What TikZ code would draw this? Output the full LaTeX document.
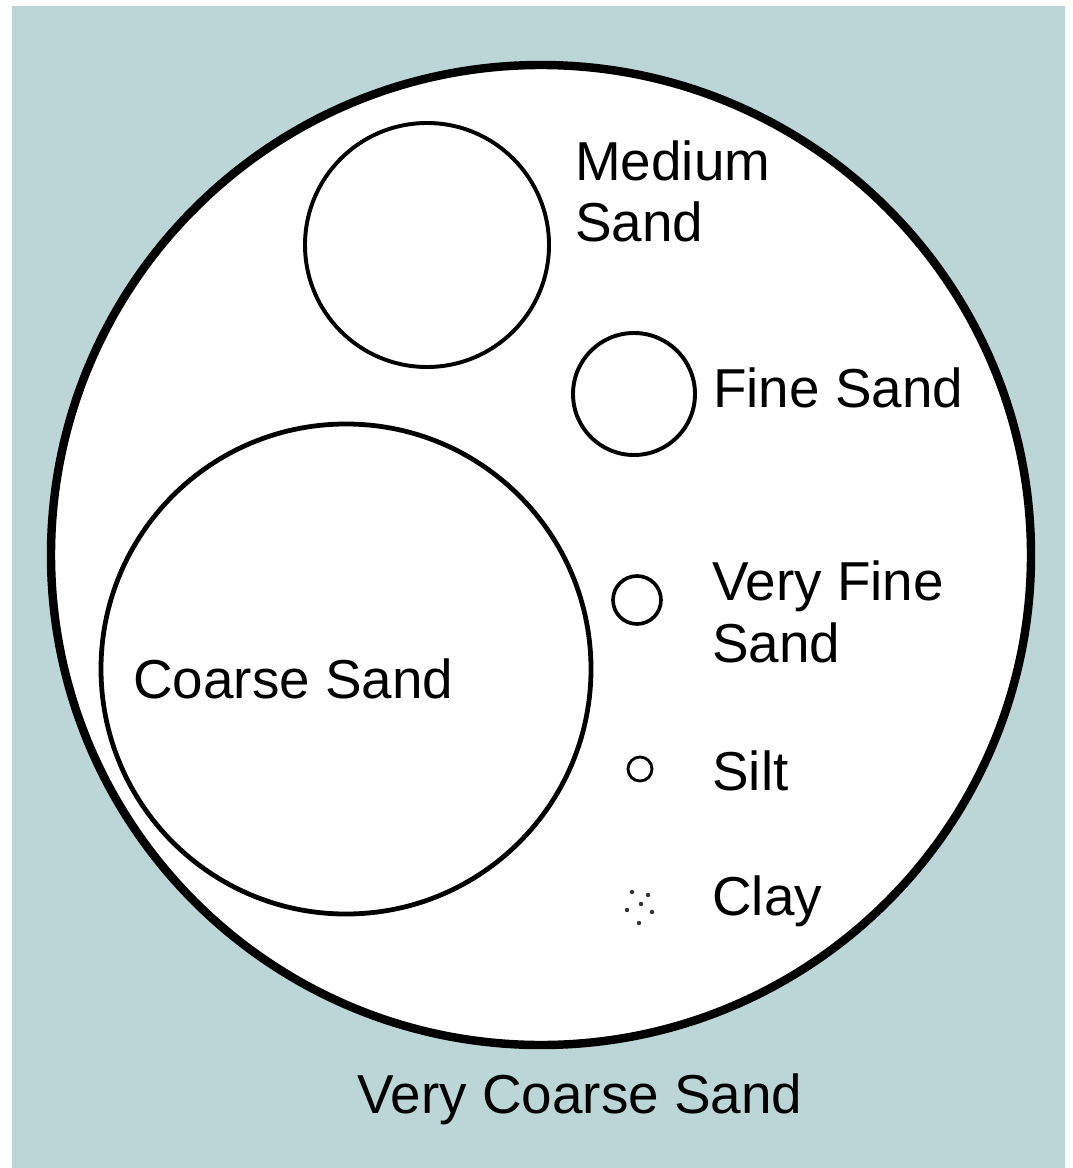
\documentclass[tikz,border=0pt]{standalone}
\usepackage{fontspec}
\setmainfont{Liberation Sans}
\usetikzlibrary{positioning}
\definecolor{cBack}{RGB}{188,214,215}
\tikzset{
	grain/.style     ={draw=black, fill=white, line width=2.8pt},
	label/.style     ={anchor=base west, inner sep=0pt, align=left, font=\fontsize{39}{44}\selectfont},
	claydot/.style   ={fill=black!80},
}
\begin{document}
\begin{tikzpicture}[x=0.025cm, y=-0.025cm]
	% frame and background
	\fill[white] (0,0) rectangle (1072,1168);
	\fill[cBack] (12,6) rectangle (1065,1168);
	\useasboundingbox (0,0) rectangle (1072,1168);
	% very coarse sand
	\draw[grain, line width=6pt] (541,555) circle (490);
	% the grains
	\draw[grain] (427,245) circle (122);
	\draw[grain] (634,394) circle (61);
	\draw[grain, line width=3.4pt] (346,669) circle (245);
	\draw[grain, line width=2.6pt] (637,600) circle (24);
	\draw[grain, line width=2pt] (640,769) circle (12);
	\foreach \px/\py in {632/892, 648/895, 641/904, 627/910, 652/912, 639/923}
		\fill[claydot] (\px,\py) circle (2.2);
	% labels (base = last line)
	\node[label] (medium) at (575,242) {Medium\\Sand};
	\node[label] (fine) at (713,407) {Fine Sand};
	\node[label] (vfine) at (712,662) {Very Fine\\Sand};
	\node[label] (coarse) at (133,698) {Coarse Sand};
	\node[label] (silt) at (712,790) {Silt};
	\node[label] (clay) at (712,915) {Clay};
	\node[label] (vcoarse) at (357,1113) {Very Coarse Sand};
\end{tikzpicture}
\end{document}
